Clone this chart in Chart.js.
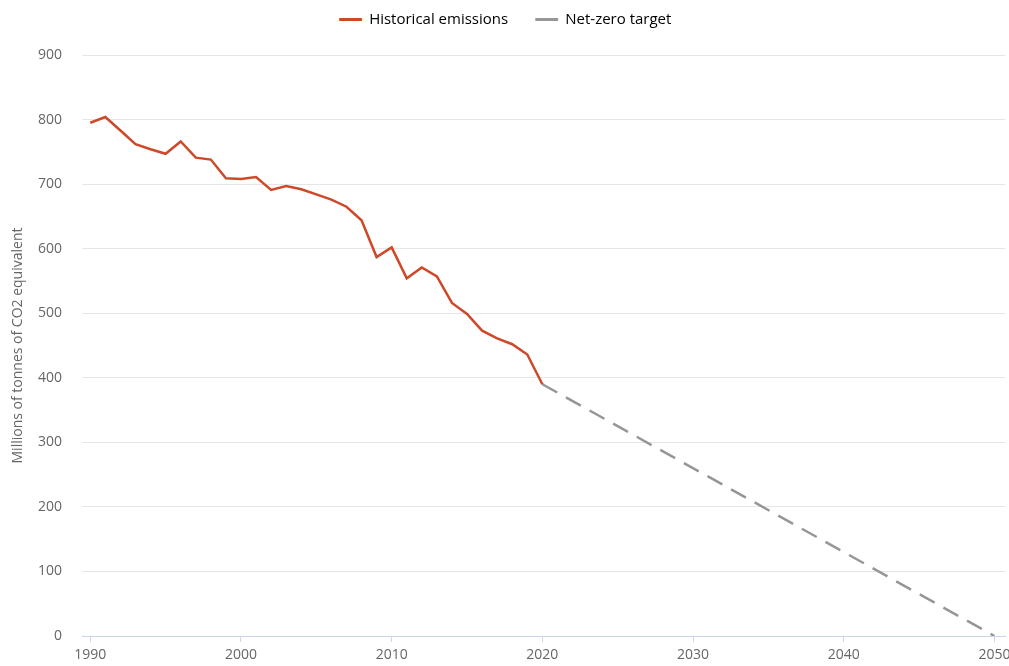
<!DOCTYPE html>
<html>
<head>
<meta charset="utf-8">
<script src="https://cdn.jsdelivr.net/npm/chart.js@4.4.1/dist/chart.umd.min.js"></script>
<style>
    body { margin: 0; background: #fff; }
    #wrap { width: 1009px; height: 666px; }
</style>
</head>
<body>
<div id="wrap"><canvas id="chart"></canvas></div>
<script>
var years = [1990, 1991, 1992, 1993, 1994, 1995, 1996, 1997, 1998, 1999,
             2000, 2001, 2002, 2003, 2004, 2005, 2006, 2007, 2008, 2009,
             2010, 2011, 2012, 2013, 2014, 2015, 2016, 2017, 2018, 2019, 2020];
var emissions = [795, 804, 783, 762, 754, 747, 766, 741, 738, 709,
                 708, 711, 691, 697, 692, 684, 676, 665, 644, 587,
                 602, 554, 571, 557, 516, 499, 473, 461, 452, 436, 390];
var targetYears = [2020, 2050];
var targetValues = [390, 0];
var xTicks = [1990, 2000, 2010, 2020, 2030, 2040, 2050];

const historical = {
    label: "Historical emissions",
    data: years.map((y, i) => ({x: y, y: emissions[i]})),
    borderColor: 'rgb(206, 72, 42)',
    backgroundColor: 'rgb(206, 72, 42)',
    borderWidth: 2.5,
    pointRadius: 0,
    tension: 0
};

const netZero = {
    label: "Net-zero target",
    data: targetYears.map((y, i) => ({x: y, y: targetValues[i]})),
    borderColor: 'rgb(150, 150, 150)',
    backgroundColor: 'rgb(150, 150, 150)',
    borderWidth: 2.5,
    borderDash: [17, 10],
    pointRadius: 0,
    tension: 0
};

// push the plot area down below the legend
const legendSpace = {
    id: 'legendSpace',
    beforeInit(chart) {
        const fit = chart.legend.fit;
        chart.legend.fit = function () {
            fit.bind(chart.legend)();
            this.height += 18;
        };
    }
};

Chart.defaults.font.family = "'Open Sans', sans-serif";
Chart.defaults.color = '#666';

new Chart(document.getElementById('chart'), {
    type: 'line',
    data: { datasets: [historical, netZero] },
    plugins: [legendSpace],
    options: {
        responsive: true,
        maintainAspectRatio: false,
        animation: false,
        layout: { padding: { left: 6, right: 4, top: 0, bottom: 0 } },
        plugins: {
            tooltip: { enabled: false },
            legend: {
                position: 'top',
                labels: {
                    boxWidth: 22,
                    boxHeight: 2,
                    padding: 12,
                    color: '#333',
                    font: { size: 15 },
                    generateLabels: function (chart) {
                        return chart.data.datasets.map((ds, i) => ({
                            // trailing spaces widen the gap between items
                            text: ds.label + (i === 0 ? '    ' : ''),
                            fillStyle: ds.borderColor,
                            strokeStyle: ds.borderColor,
                            lineWidth: 1,
                            lineDash: [],
                            datasetIndex: i,
                            hidden: false
                        }));
                    }
                }
            }
        },
        scales: {
            x: {
                type: 'linear',
                min: 1989.45,
                max: 2050.7,
                afterBuildTicks: function (axis) {
                    axis.ticks = xTicks.map(v => ({value: v}));
                },
                afterFit: function (axis) {
                    axis.height = 30;
                    axis.paddingLeft = 0;
                    axis.paddingRight = 0;
                },
                ticks: {
                    font: { size: 14 },
                    color: '#666',
                    padding: 5,
                    callback: v => String(v),
                    maxRotation: 0
                },
                grid: {
                    drawOnChartArea: false,
                    drawTicks: true,
                    tickLength: 6,
                    color: '#ccd6eb'
                },
                border: { color: '#ccd6eb', width: 1 }
            },
            y: {
                min: 0,
                max: 900,
                afterFit: function (axis) {
                    axis.width = 76;
                },
                ticks: {
                    stepSize: 100,
                    font: { size: 14 },
                    color: '#666',
                    padding: 20
                },
                grid: {
                    color: '#e6e6e6',
                    drawTicks: false
                },
                border: { display: false },
                title: {
                    display: true,
                    text: 'Millions of tonnes of CO2 equivalent',
                    color: '#666',
                    font: { size: 14 }
                }
            }
        }
    }
});
</script>
</body>
</html>
